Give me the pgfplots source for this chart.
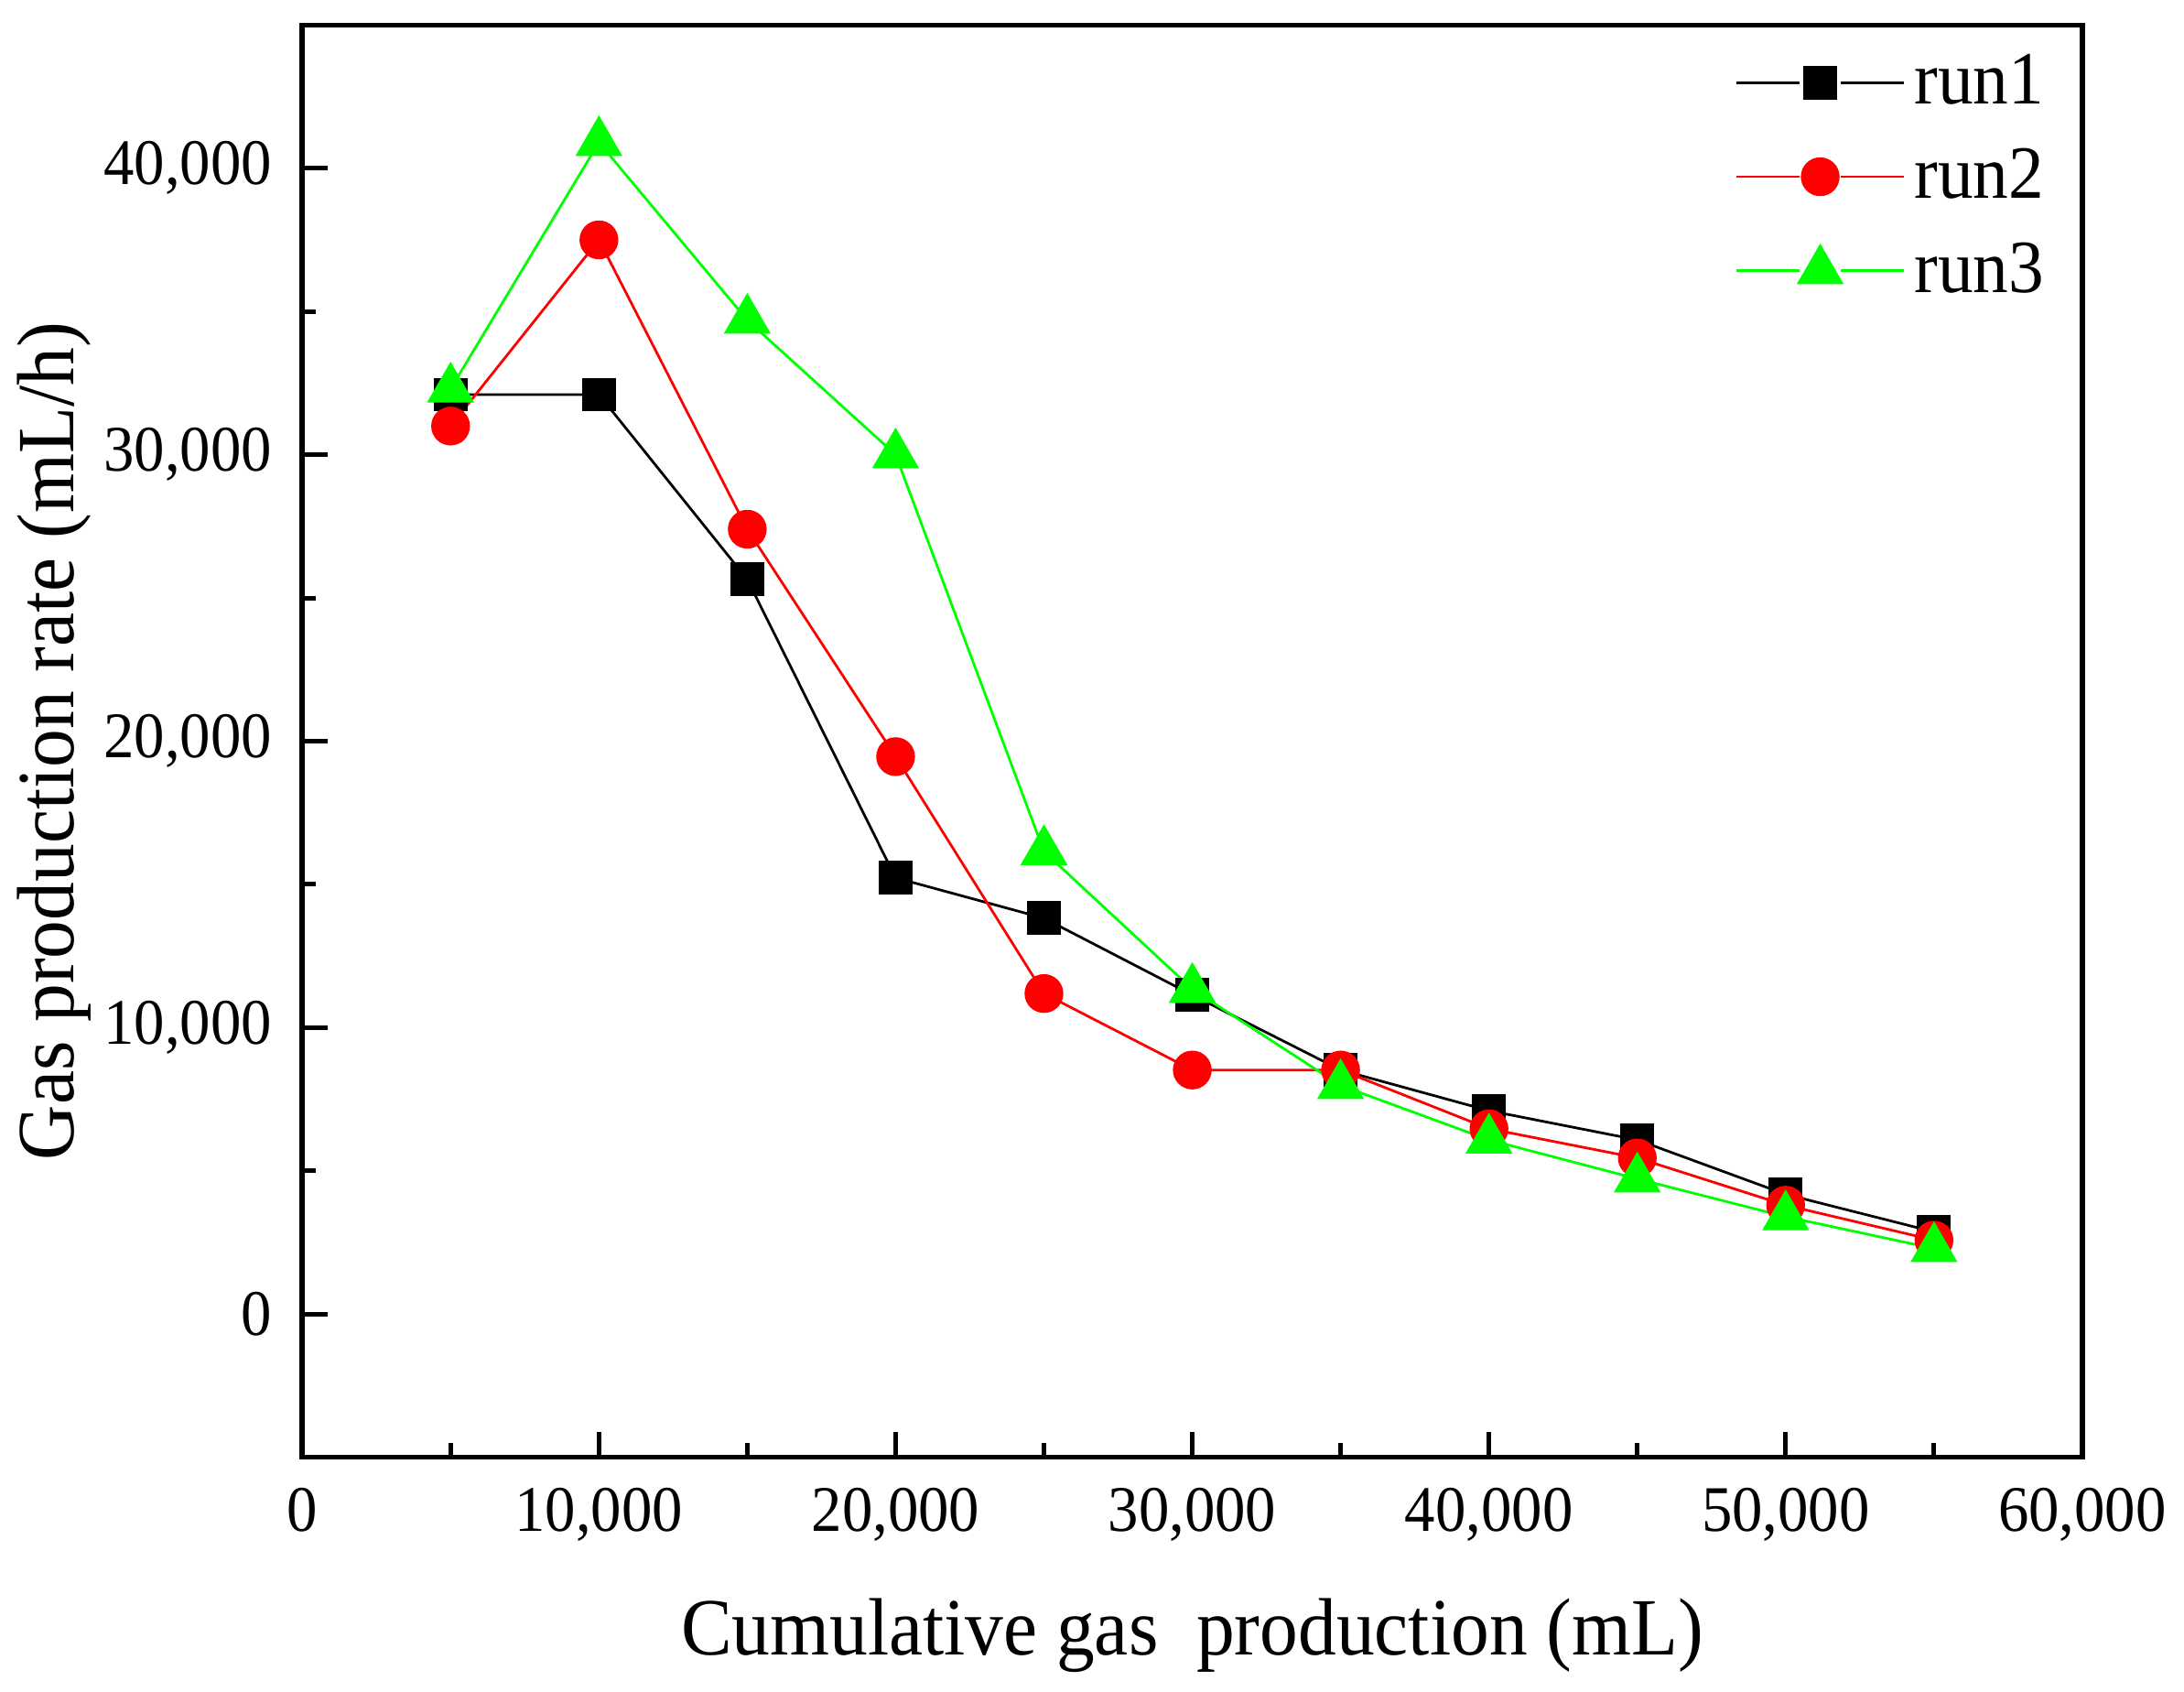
\documentclass[border=0pt]{standalone}
\usepackage{pgfplots}
\pgfplotsset{compat=1.18}
\usepackage{fontspec}
\setmainfont{Liberation Serif}[FakeStretch=0.94]
\definecolor{pgreen}{RGB}{0,255,0}
\definecolor{pred}{RGB}{255,0,0}

\begin{document}
\begin{tikzpicture}
	\begin{axis}[
			name=ax,
			scale only axis,
			width=383.4pt,
			height=308.4pt,
			xmin=0, xmax=60000,
			ymin=-5000, ymax=45000,
			xtick={0,10000,...,60000},
			minor xtick={5000,15000,...,55000},
			ytick={0,10000,...,40000},
			minor ytick={5000,15000,...,35000},
			scaled ticks=false,
			/pgf/number format/.cd, 1000 sep={,}, assume math mode=true,
			/pgfplots/.cd,
			tick pos=left,
			tick align=inside,
			major tick length=5.5pt,
			minor tick length=3pt,
			every tick/.style={line width=1pt, black},
			axis line style={line width=1.1pt},
			tick label style={font=\fontsize{14}{16}\selectfont},
			xticklabel style={yshift=-3pt},
			yticklabel style={xshift=-3pt},
			label style={font=\fontsize{17.5}{21}\selectfont, inner sep=0pt},
			xlabel={Cumulative gas\ \ production (mL)},
			ylabel={Gas production rate (mL/h)},
			xlabel style={yshift=-8.8pt},
			ylabel style={yshift=-0.8pt},
			legend style={draw=none, fill=none, at={(0.992,0.993)}, anchor=north east,
				font=\fontsize{16.2}{19}\selectfont, row sep=4pt},
			legend cell align=left,
			legend image code/.code={
				\draw[#1] (0pt,0pt) -- (13.5pt,0pt);
				\draw[#1] (22.5pt,0pt) -- (36pt,0pt);
				\draw[#1] plot coordinates {(18pt,0pt)};
			},
			]

		\addplot[black, line width=0.55pt, mark=square*, mark size=3.35pt, mark options={solid}] coordinates {
			(5000,32100) (10000,32100) (15000,25650) (20000,15230) (25000,13820)
			(30000,11140) (35000,8520) (40000,7100) (45000,6080) (50000,4180) (55000,2870)
		};
		\addlegendentry{run1}
		\addplot[pred, line width=0.55pt, mark=*, mark size=3.9pt, mark options={solid, fill=pred}] coordinates {
			(5000,31000) (10000,37500) (15000,27400) (20000,19460) (25000,11190)
			(30000,8520) (35000,8520) (40000,6470) (45000,5450) (50000,3800) (55000,2580)
		};
		\addlegendentry{run2}
		\addplot[pgreen, line width=0.55pt, mark=triangle*, mark size=5.3pt, mark options={solid, fill=pgreen}] coordinates {
			(5000,32300) (10000,40900) (15000,34700) (20000,30000) (25000,16150)
			(30000,11340) (35000,7980) (40000,6080) (45000,4720) (50000,3400) (55000,2290)
		};
		\addlegendentry{run3}
	\end{axis}
	\path ([xshift=-65.1pt, yshift=-50.4pt]ax.south west) rectangle ([xshift=21.9pt, yshift=5.4pt]ax.north east);
\end{tikzpicture}
\end{document}
